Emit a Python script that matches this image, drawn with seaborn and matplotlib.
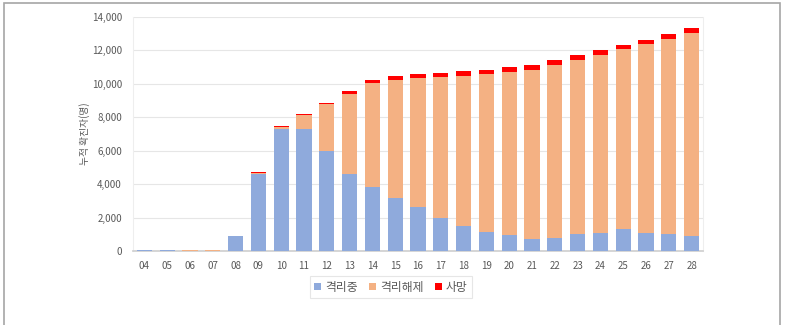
import matplotlib
matplotlib.use("Agg")
import matplotlib.pyplot as plt
import seaborn as sns
import numpy as np
import pandas as pd
from matplotlib.patches import Patch

weeks = ["04", "05", "06", "07", "08", "09", "10", "11", "12", "13", "14", "15", "16",
         "17", "18", "19", "20", "21", "22", "23", "24", "25", "26", "27", "28"]
isolated = [40, 40, 5, 5, 900, 4620, 7300, 7300, 6000, 4620, 3850, 3170, 2610,
            1960, 1520, 1150, 930, 730, 790, 990, 1090, 1290, 1090, 990, 910]
released = [0, 0, 40, 45, 0, 50, 130, 820, 2770, 4800, 6200, 7070, 7740,
            8450, 8970, 9420, 9780, 10120, 10340, 10450, 10650, 10770, 11265, 11720, 12140]
deaths = [0, 0, 0, 0, 10, 30, 50, 75, 110, 160, 190, 230, 240,
          250, 256, 260, 270, 275, 280, 285, 285, 285, 285, 290, 290]
labels = ["격리중", "격리해제", "사망"]
colors = ["#8FAADC", "#F4B183", "#FF0000"]

df = pd.DataFrame({"week": weeks,
                   "iso": np.array(isolated, float),
                   "rel": np.array(isolated, float) + np.array(released, float),
                   "tot": np.array(isolated, float) + np.array(released, float) + np.array(deaths, float)})

sns.set_theme(style="white")
plt.rcParams['font.family'] = ['Noto Sans CJK KR', 'DejaVu Sans']

fig = plt.figure(figsize=(7.85, 3.25), dpi=100)
ax = fig.add_axes([133/785, 1-251/325, (703-133)/785, (251-17)/325])

for col, c in zip(["tot", "rel", "iso"], colors[::-1]):
    sns.barplot(data=df, x="week", y=col, color=c, width=0.66, ax=ax,
                saturation=1, linewidth=0, zorder=3)

ax.set_ylim(0, 14000)
ax.set_xlim(-0.5, len(weeks) - 0.5)
ax.set_yticks(range(0, 14001, 2000))
ax.yaxis.set_major_formatter(matplotlib.ticker.FuncFormatter(lambda v, p: f"{int(v):,}"))
ax.grid(axis="y", color="#E6E6E6", linewidth=0.8, zorder=0)
ax.set_axisbelow(True)
ax.spines["top"].set_visible(False)
for s in ["left", "right"]:
    ax.spines[s].set_color("#EEEEEE")
    ax.spines[s].set_linewidth(0.8)
ax.spines["bottom"].set_color("#D0D0D0")
ax.set_xticks(np.arange(-0.5, len(weeks), 1.0), minor=True)
ax.tick_params(axis="x", which="minor", length=3, color="#D0D0D0", width=0.8)
ax.tick_params(axis="both", which="major", colors="#595959", labelsize=7, length=0)
ax.tick_params(axis="x", which="major", pad=7)
ax.tick_params(axis="y", which="major", pad=8)
ax.set_xlabel("")
ax.set_ylabel("누적 확진자(명)", color="#595959", fontsize=7, labelpad=1)

handles = [Patch(facecolor=c, edgecolor="none") for c in colors]
leg = fig.legend(handles, labels, loc="center", ncol=3, bbox_to_anchor=(391/785, 1-287/325),
                 fontsize=8.5, frameon=True, handlelength=0.6, handleheight=0.6,
                 handletextpad=0.3, columnspacing=1.0, borderpad=0.4, fancybox=False)
leg.get_frame().set_edgecolor("#E0E0E0")
leg.get_frame().set_linewidth(0.8)
for t in leg.get_texts():
    t.set_color("#595959")

border = plt.Rectangle((4/785, -0.05), (780-4)/785, 1.05-3/325, transform=fig.transFigure,
                       fill=False, edgecolor="#A6A6A6", linewidth=1.2, clip_on=False)
fig.add_artist(border)

fig.savefig("out.png", dpi=100)
